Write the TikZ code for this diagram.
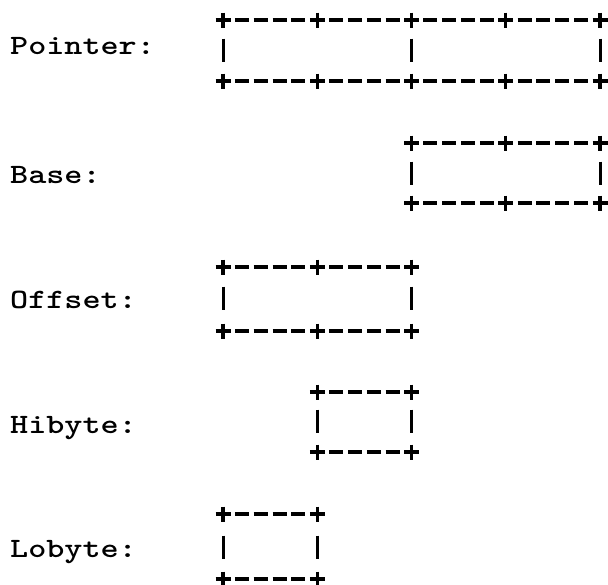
\documentclass[tikz,border=0pt]{standalone}
\usepackage{graphicx}
\begin{document}
\begin{tikzpicture}[x=1pt,y=-1pt,
  artdash/.style={line width=3.6pt},
  artcross/.style={line width=3.4pt},
  artbar/.style={line width=3pt},
  lab/.style={anchor=base west,inner sep=0pt,font=\ttfamily\bfseries\fontsize{28}{28}\selectfont}]
\useasboundingbox (0,0) rectangle (608,584);
% a horizontal border row: crosses at every 5th column, dashes between
\newcommand\artrow[3]{%
  \foreach \c in {#2,...,#3}{%
    \pgfmathtruncatemacro\m{mod(\c,5)}%
    \pgfmathsetmacro\cx{223+\c*18.85}%
    \ifnum\m=0
      \draw[artcross] (\cx-7.5,#1) -- (\cx+7.5,#1) (\cx,#1-7.5) -- (\cx,#1+7.5);
    \else
      \draw[artdash] (\cx-7,#1) -- (\cx+7,#1);
    \fi
  }}
% vertical bars of the middle row
\newcommand\artbars[2]{%
  \foreach \c in {#2}{%
    \pgfmathsetmacro\cx{223+\c*18.85}%
    \draw[artbar] (\cx,#1-11.5) -- (\cx,#1+11.5);
  }}
\newcommand\stretchlab[1]{\scalebox{1.23}[1]{#1}}

% Pointer
\node[lab] (lpointer) at (10,54) {\stretchlab{Pointer:}};
\artrow{20}{0}{20}
\artbars{50}{0,10,20}
\artrow{81}{0}{20}

% Base
\node[lab] (lbase) at (10,183) {\stretchlab{Base:}};
\artrow{143}{10}{20}
\artbars{173}{10,20}
\artrow{203}{10}{20}

% Offset
\node[lab] (loffset) at (10,308) {\stretchlab{Offset:}};
\artrow{267}{0}{10}
\artbars{298}{0,10}
\artrow{331}{0}{10}

% Hibyte
\node[lab] (lhibyte) at (10,433) {\stretchlab{Hibyte:}};
\artrow{392}{5}{10}
\artbars{421}{5,10}
\artrow{452}{5}{10}

% Lobyte
\node[lab] (llobyte) at (10,557) {\stretchlab{Lobyte:}};
\artrow{514}{0}{5}
\artbars{547}{0,5}
\artrow{579}{0}{5}
\end{tikzpicture}
\end{document}
